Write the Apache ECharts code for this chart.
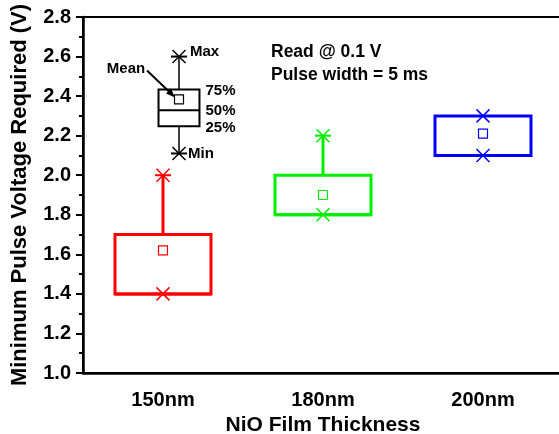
<!DOCTYPE html>
<html>
<head>
<meta charset="utf-8">
<script src="https://cdn.jsdelivr.net/npm/echarts@6/dist/echarts.min.js"></script>
<style>
  html, body { margin: 0; padding: 0; background: #fff; }
  #chart { width: 559px; height: 434px; }
</style>
</head>
<body>
<div id="chart"></div>
<script>
// box statistics per film thickness
const categories = ["150nm", "180nm", "200nm"];
const minValues = [1.4, 1.8, 2.1];
const q1Values = [1.4, 1.8, 2.1];
const medianValues = [1.4, 1.8, 2.1];
const q3Values = [1.7, 2.0, 2.3];
const maxValues = [2.0, 2.2, 2.3];
const meanValues = [1.62, 1.9, 2.21];
const boxColors = ["#ff0000", "#00ee00", "#0000ff"];

// key box (explains the symbols)
const keyX = [0.6];
const keyMin = [2.11];
const keyQ1 = [2.248];
const keyMedian = [2.328];
const keyQ3 = [2.434];
const keyMax = [2.6];
const keyMean = [2.383];

const yMin = 1.0;
const yMax = 2.8;
const yStep = 0.2;

const FONT = "Liberation Sans, Arial, Helvetica, sans-serif";

const chart = echarts.init(document.getElementById("chart"));

const boxData = categories.map((c, i) => [i, q1Values[i], medianValues[i], q3Values[i], minValues[i], maxValues[i], meanValues[i]]);
const keyData = keyX.map((x, i) => [x, keyQ1[i], keyMedian[i], keyQ3[i], keyMin[i], keyMax[i], keyMean[i]]);

const cross = (cx, cy, r, color, lw) => [
  { type: "line", shape: { x1: cx - r, y1: cy - r, x2: cx + r, y2: cy + r }, style: { stroke: color, lineWidth: lw } },
  { type: "line", shape: { x1: cx - r, y1: cy + r, x2: cx + r, y2: cy - r }, style: { stroke: color, lineWidth: lw } },
];

const buildBox = (api, halfW, color, boxLw, whiskerLw) => {
  const x = api.value(0);
  const q1 = api.coord([x, api.value(1)]);
  const med = api.coord([x, api.value(2)]);
  const q3 = api.coord([x, api.value(3)]);
  const lo = api.coord([x, api.value(4)]);
  const hi = api.coord([x, api.value(5)]);
  const mean = api.coord([x, api.value(6)]);
  const cx = q1[0];
  const children = [];
  if (hi[1] < q3[1]) {
    children.push({ type: "line", shape: { x1: cx, y1: q3[1], x2: cx, y2: hi[1] }, style: { stroke: color, lineWidth: whiskerLw } });
    children.push({ type: "line", shape: { x1: cx - 8, y1: hi[1], x2: cx + 8, y2: hi[1] }, style: { stroke: color, lineWidth: 2 } });
  }
  if (lo[1] > q1[1]) {
    children.push({ type: "line", shape: { x1: cx, y1: q1[1], x2: cx, y2: lo[1] }, style: { stroke: color, lineWidth: whiskerLw } });
    children.push({ type: "line", shape: { x1: cx - 8, y1: lo[1], x2: cx + 8, y2: lo[1] }, style: { stroke: color, lineWidth: 2 } });
  }
  children.push({
    type: "rect",
    shape: { x: cx - halfW, y: q3[1], width: halfW * 2, height: q1[1] - q3[1] },
    style: { fill: "none", stroke: color, lineWidth: boxLw },
  });
  children.push({ type: "line", shape: { x1: cx - halfW, y1: med[1], x2: cx + halfW, y2: med[1] }, style: { stroke: color, lineWidth: boxLw } });
  children.push(...cross(cx, hi[1], 6.5, color, 1.5));
  children.push(...cross(cx, lo[1], 6.5, color, 1.5));
  children.push({
    type: "rect",
    shape: { x: cx - 4.5, y: mean[1] - 4.5, width: 9, height: 9 },
    style: { fill: "#fff", stroke: color, lineWidth: 1.2 },
  });
  return { children, cx, halfW, q1, med, q3, lo, hi, mean };
};

const keyLabel = (text, x, y, align) => ({
  type: "text",
  style: { text, x, y, align: align || "left", verticalAlign: "middle", font: "bold 15px " + FONT, fill: "#000" },
});

chart.setOption({
  animation: false,
  backgroundColor: "#fff",
  grid: {
    left: 83,
    top: 17,
    width: 480,
    height: 356,
    outerBoundsMode: "none",
    containLabel: false,
    show: true,
    borderColor: "#000",
    borderWidth: 2,
    backgroundColor: "transparent",
  },
  xAxis: [
    {
      type: "category",
      data: categories,
      boundaryGap: true,
      name: "NiO Film Thickness",
      nameLocation: "middle",
      nameGap: 40,
      nameTextStyle: { fontFamily: FONT, fontWeight: "bold", fontSize: 21, color: "#000" },
      axisLine: { lineStyle: { color: "#000", width: 2.5 } },
      axisTick: { alignWithLabel: true, length: 7, lineStyle: { width: 2, color: "#000" } },
      axisLabel: { margin: 17, fontFamily: FONT, fontWeight: "bold", fontSize: 20, color: "#000" },
      splitLine: { show: false },
    },
    {
      type: "value",
      min: 0,
      max: 3,
      show: false,
    },
  ],
  yAxis: {
    type: "value",
    min: yMin,
    max: yMax,
    interval: yStep,
    name: "Minimum Pulse Voltage Required (V)",
    nameLocation: "middle",
    nameGap: 52,
    nameTextStyle: { fontFamily: FONT, fontWeight: "bold", fontSize: 22, color: "#000" },
    axisLine: { show: true, lineStyle: { color: "#000", width: 2.5 } },
    axisTick: { show: true, length: 7, lineStyle: { width: 2, color: "#000" } },
    minorTick: { show: true, splitNumber: 2, length: 4, lineStyle: { width: 2, color: "#000" } },
    axisLabel: {
      margin: 12,
      fontFamily: FONT,
      fontWeight: "bold",
      fontSize: 20,
      color: "#000",
      formatter: (v) => v.toFixed(1),
    },
    splitLine: { show: false },
  },
  graphic: [
    {
      type: "text",
      left: 271,
      top: 41,
      style: {
        text: "Read @ 0.1 V\nPulse width = 5 ms",
        font: "bold 17.5px " + FONT,
        lineHeight: 23,
        fill: "#000",
      },
    },
  ],
  series: [
    {
      type: "custom",
      xAxisIndex: 0,
      data: boxData,
      encode: { x: 0, y: [1, 2, 3, 4, 5, 6] },
      renderItem: (params, api) => {
        const halfW = api.size([1, 0])[0] * 0.3;
        const color = boxColors[params.dataIndex];
        return { type: "group", children: buildBox(api, halfW, color, 3, 3).children };
      },
    },
    {
      type: "custom",
      xAxisIndex: 1,
      data: keyData,
      encode: { x: 0, y: [1, 2, 3, 4, 5, 6] },
      renderItem: (params, api) => {
        const halfW = api.size([0.128, 0])[0];
        const b = buildBox(api, halfW, "#000", 2, 1.5);
        const right = b.cx + halfW + 6;
        const mx = b.mean[0];
        const my = b.mean[1];
        b.children.push(
          keyLabel("Max", b.cx + 11, b.hi[1] - 5),
          keyLabel("Min", b.cx + 9, b.lo[1]),
          keyLabel("75%", right, b.q3[1] + 1.5),
          keyLabel("50%", right, b.med[1] + 0.5),
          keyLabel("25%", right, b.q1[1] + 2),
          keyLabel("Mean", mx - 53, my - 31, "center"),
          { type: "line", shape: { x1: mx - 32, y1: my - 29, x2: mx - 8, y2: my - 6 }, style: { stroke: "#000", lineWidth: 2 } },
          {
            type: "polygon",
            shape: { points: [[mx - 4, my - 2], [mx - 13, my - 6], [mx - 8, my - 11]] },
            style: { fill: "#000" },
          }
        );
        return { type: "group", children: b.children };
      },
    },
  ],
});
</script>
</body>
</html>
